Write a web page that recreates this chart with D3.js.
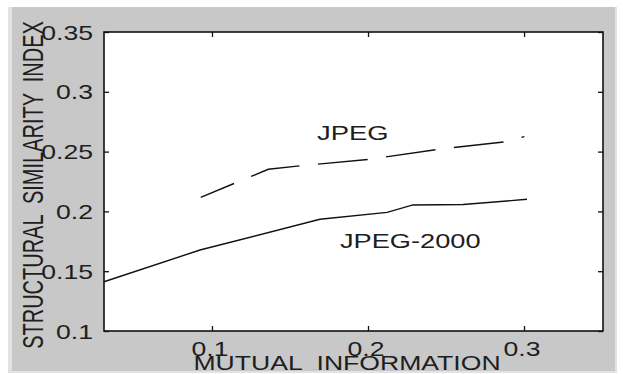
<!DOCTYPE html>
<html><head><meta charset="utf-8">
<script src="https://cdn.jsdelivr.net/npm/d3@7"></script>
<style>html,body{margin:0;padding:0;background:#fff;}svg{display:block;}text{white-space:pre;}</style>
</head><body>
<script>
// data
const jpeg2000X = [0.0308, 0.0923, 0.1692, 0.2122, 0.2288, 0.2609, 0.3019];
const jpeg2000Y = [0.1412, 0.1677, 0.1934, 0.1992, 0.2054, 0.2058, 0.2101];
const jpegX = [0.0928, 0.1361, 0.1569, 0.2013, 0.2449, 0.2885, 0.3002];
const jpegY = [0.2118, 0.2352, 0.2382, 0.2436, 0.2519, 0.2583, 0.2625];
const xTicks = [0.1, 0.2, 0.3];
const xTickLabels = ["0.1", "0.2", "0.3"];
const yTicks = [0.1, 0.15, 0.2, 0.25, 0.3, 0.35];
const yTickLabels = ["0.1", "0.15", "0.2", "0.25", "0.3", "0.35"];
const seriesLabels = ["JPEG", "JPEG-2000"];
const xTitle = "MUTUAL  INFORMATION";
const yTitle = "STRUCTURAL  SIMILARITY  INDEX";

const W = 623, H = 374;
const svg = d3.select("body").append("svg").attr("width", W).attr("height", H);
const FONT = "'Liberation Sans', Arial, sans-serif";
const TXT = "#1e1e1e";

svg.append("rect").attr("x", 0).attr("y", 0).attr("width", W).attr("height", H).attr("fill", "#ffffff");
svg.append("rect").attr("x", 8).attr("y", 7).attr("width", 609).attr("height", 366).attr("fill", "#e2e2e2");
svg.append("rect").attr("x", 12).attr("y", 7).attr("width", 603).attr("height", 364).attr("fill", "#c8c8c8");

const x = d3.scaleLinear().domain([0.0308, 0.3506]).range([104, 603]);
const y = d3.scaleLinear().domain([0.1, 0.35]).range([331, 32]);

// plot area
svg.append("rect").attr("x", 104).attr("y", 32).attr("width", 499).attr("height", 299)
  .attr("fill", "#fff").attr("stroke", "none");

// ticks on all sides
const tk = 5;
const axB = svg.append("g").attr("transform", "translate(0,331)")
  .call(d3.axisBottom(x).tickValues(xTicks).tickSize(-tk).tickFormat(""));
const axT = svg.append("g").attr("transform", "translate(0,32)")
  .call(d3.axisTop(x).tickValues(xTicks).tickSize(-tk).tickFormat(""));
const axL = svg.append("g").attr("transform", "translate(104,0)")
  .call(d3.axisLeft(y).tickValues(yTicks).tickSize(-tk).tickFormat(""));
const axR = svg.append("g").attr("transform", "translate(603,0)")
  .call(d3.axisRight(y).tickValues(yTicks).tickSize(-tk).tickFormat(""));
[axB, axT, axL, axR].forEach(a => {
  a.select(".domain").remove();
  a.selectAll("line").attr("stroke", "#111").attr("stroke-width", 1.3);
});
svg.append("rect").attr("x", 104).attr("y", 32).attr("width", 499).attr("height", 299)
  .attr("fill", "none").attr("stroke", "#111").attr("stroke-width", 1.6);

// stretched text helper
function stext(px, py, str, anchor, sx, rot) {
  const g = svg.append("g").attr("transform",
    `translate(${px},${py}) scale(${sx},1)` + (rot ? ` rotate(${rot})` : ""));
  g.append("text").attr("x", 0).attr("y", 0).attr("text-anchor", anchor)
    .attr("xml:space", "preserve")
    .attr("font-family", FONT).attr("font-size", 20).attr("fill", TXT).text(str);
  return g;
}

// tick labels
xTicks.forEach((v, i) => stext(x(v) - 2, 356, xTickLabels[i], "middle", 1.33));
yTicks.forEach((v, i) => stext(93, y(v) + 7.5, yTickLabels[i], "end", 1.33));

// titles
stext(347, 370, xTitle, "middle", 1.33);
stext(43, 185, yTitle, "middle", 1.5, -90);

// lines
const line = d3.line().x(d => x(d[0])).y(d => y(d[1]));
svg.append("path").datum(jpeg2000X.map((v, i) => [v, jpeg2000Y[i]]))
  .attr("d", line).attr("fill", "none").attr("stroke", "#111").attr("stroke-width", 1.4);
svg.append("path").datum(jpegX.map((v, i) => [v, jpegY[i]]))
  .attr("d", line).attr("fill", "none").attr("stroke", "#111").attr("stroke-width", 1.4)
  .attr("stroke-dasharray", "50 18.5").attr("stroke-dashoffset", 14);

// series labels
stext(317, 140, seriesLabels[0], "start", 1.37);
stext(340, 248, seriesLabels[1], "start", 1.36);
</script>
</body></html>
